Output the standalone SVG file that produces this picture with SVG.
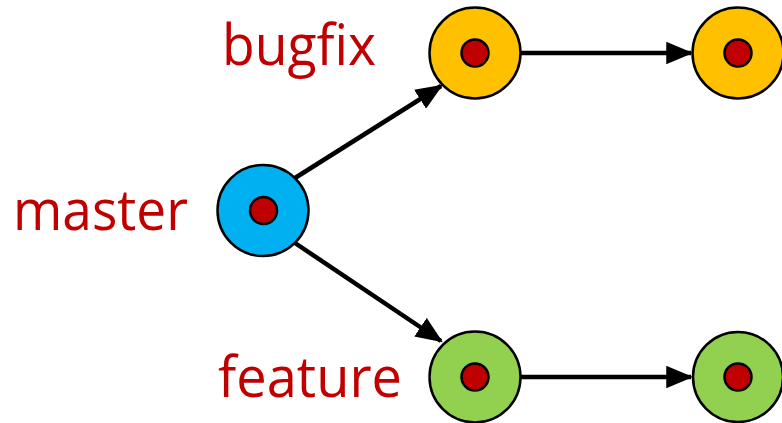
<svg xmlns="http://www.w3.org/2000/svg" width="782" height="423" viewBox="0 0 782 423">
<style>
.lbl{font-family:"Open Sans","Liberation Sans",sans-serif;font-size:56px;fill:#C00000}
.ring{stroke:#000;stroke-width:2.5}
.dot{fill:#C00000;stroke:#000;stroke-width:2.5}
.edge{stroke:#000;stroke-width:4.5;fill:none;marker-end:url(#ah)}
</style>
<defs>
<marker id="ah" markerWidth="6" markerHeight="5" refX="5.5" refY="2.5" orient="auto" markerUnits="strokeWidth">
<path d="M0,0 L6,2.5 L0,5 Z" fill="#000"/>
</marker>
</defs>
<rect width="782" height="423" fill="#fff"/>
<g id="connectors">
<line class="edge" x1="295" y1="178" x2="441" y2="86"/>
<line class="edge" x1="295" y1="243" x2="441" y2="341"/>
<line class="edge" x1="521" y1="53" x2="691" y2="53"/>
<line class="edge" x1="521" y1="377" x2="691" y2="377"/>
</g>
<g id="master">
<circle class="ring" cx="263" cy="210.5" r="45.5" fill="#00B0F0"/>
<circle class="dot" cx="263.5" cy="210.5" r="13.5"/>
<text class="lbl" x="13" y="230" textLength="175" lengthAdjust="spacingAndGlyphs">master</text>
</g>
<g id="bugfix1">
<circle class="ring" cx="475" cy="53" r="45.5" fill="#FFC000"/>
<circle class="dot" cx="475" cy="53" r="13.5"/>
<text class="lbl" x="222" y="65" textLength="154" lengthAdjust="spacingAndGlyphs">bugfix</text>
</g>
<g id="bugfix2">
<circle class="ring" cx="738" cy="53" r="45.5" fill="#FFC000"/>
<circle class="dot" cx="738" cy="53" r="13.5"/>
</g>
<g id="feature1">
<circle class="ring" cx="475" cy="377" r="45.5" fill="#92D050"/>
<circle class="dot" cx="475" cy="377" r="13.5"/>
<text class="lbl" x="218" y="397" textLength="184" lengthAdjust="spacingAndGlyphs">feature</text>
</g>
<g id="feature2">
<circle class="ring" cx="738" cy="377" r="45" fill="#92D050"/>
<circle class="dot" cx="738" cy="377" r="13.5"/>
</g>
</svg>
